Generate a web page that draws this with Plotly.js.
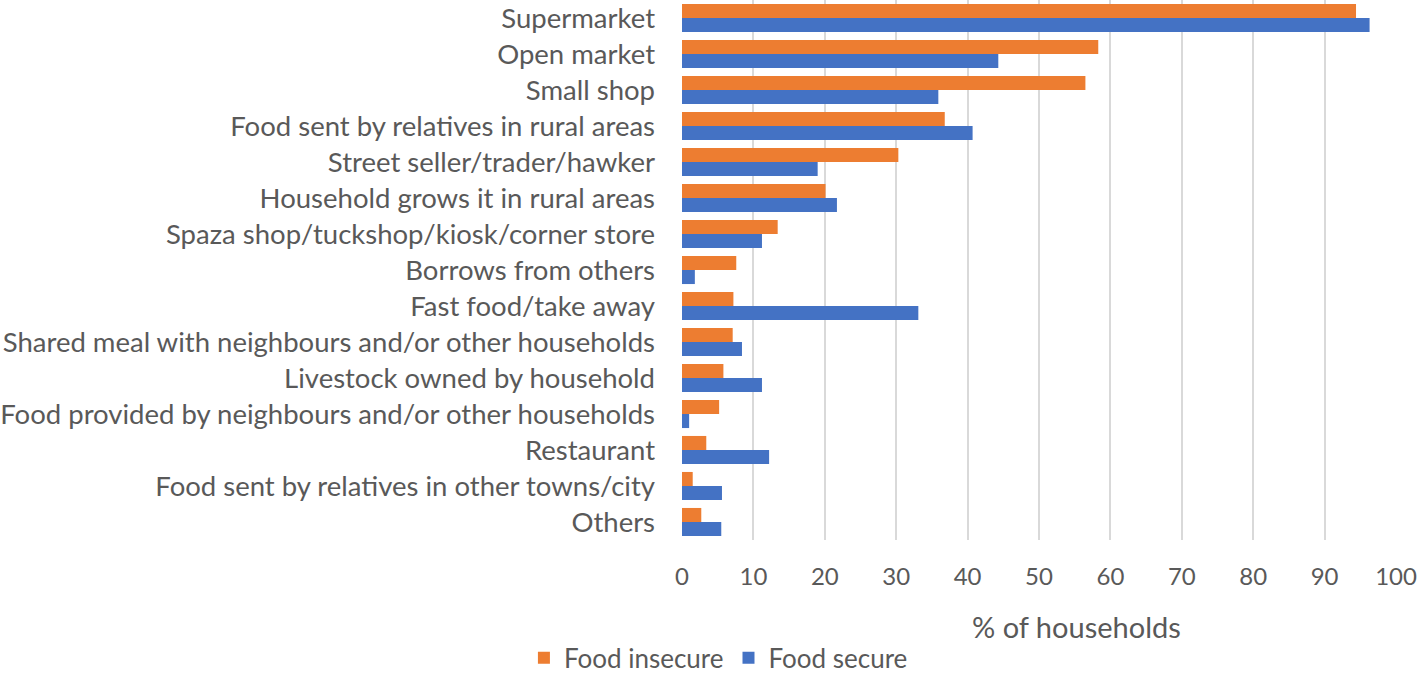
<!DOCTYPE html>
<html>
<head>
<meta charset="utf-8">
<script src="https://cdn.plot.ly/plotly-3.0.1.min.js"></script>
<style>
  html, body { margin: 0; padding: 0; background: #fff; }
  #chart { width: 1417px; height: 674px; }
</style>
</head>
<body>
<div id="chart"></div>
<script>
// Food sources, top to bottom as in the figure
const categories = [
  'Supermarket',
  'Open market',
  'Small shop',
  'Food sent by relatives in rural areas',
  'Street seller/trader/hawker',
  'Household grows it in rural areas',
  'Spaza shop/tuckshop/kiosk/corner store',
  'Borrows from others',
  'Fast food/take away',
  'Shared meal with neighbours and/or other households',
  'Livestock owned by household',
  'Food provided by neighbours and/or other households',
  'Restaurant',
  'Food sent by relatives in other towns/city',
  'Others'
];

const foodInsecure = [94.4, 58.3, 56.5, 36.8, 30.3, 20.1, 13.4, 7.6, 7.2, 7.1, 5.8, 5.2, 3.4, 1.5, 2.7];
const foodSecure   = [96.3, 44.3, 35.9, 40.7, 19.0, 21.7, 11.2, 1.8, 33.1, 8.4, 11.2, 1.0, 12.2, 5.6, 5.5];

const xTicks = [0, 10, 20, 30, 40, 50, 60, 70, 80, 90, 100];

const font = 'Lato, "Open Sans", sans-serif';
const grey = '#595959';

const traces = [
  {
    type: 'bar', orientation: 'h', name: 'Food insecure',
    y: categories, x: foodInsecure,
    marker: { color: '#ed7d31' }
  },
  {
    type: 'bar', orientation: 'h', name: 'Food secure',
    y: categories, x: foodSecure,
    marker: { color: '#4472c4' }
  }
];

const layout = {
  width: 1417,
  height: 674,
  paper_bgcolor: '#fff',
  plot_bgcolor: '#fff',
  font: { family: font, color: grey, size: 27 },
  margin: { l: 682, r: 21, t: 0, b: 134 },
  barmode: 'group',
  bargap: 0.22,
  bargroupgap: 0,
  showlegend: true,
  legend: {
    orientation: 'h',
    xref: 'container', yref: 'container',
    x: 0.507, xanchor: 'center',
    y: 0.024, yanchor: 'middle',
    font: { size: 26, color: grey },
    itemwidth: 30,
    traceorder: 'normal'
  },
  xaxis: {
    range: [0, 100],
    tickvals: xTicks,
    ticktext: xTicks.map(String),
    showgrid: true,
    gridcolor: '#d9d9d9',
    gridwidth: 2,
    zeroline: false,
    showline: false,
    ticks: '',
    ticklabelstandoff: 20,
    ticklabeloverflow: 'allow',
    tickfont: { size: 24, color: grey },
    fixedrange: true
  },
  yaxis: {
    type: 'category',
    autorange: 'reversed',
    showgrid: false,
    zeroline: false,
    showline: false,
    ticks: '',
    ticklabelstandoff: 26,
    tickfont: { size: 27.5, color: grey },
    automargin: false,
    fixedrange: true
  },
  annotations: [
    {
      text: '% of households',
      xref: 'paper', yref: 'paper',
      x: (1076 - 682) / 714, y: -(626 - 540) / 540,
      xanchor: 'center', yanchor: 'middle',
      showarrow: false,
      font: { size: 29, color: grey }
    }
  ]
};

Plotly.newPlot('chart', traces, layout, { displayModeBar: false, staticPlot: true });
</script>
</body>
</html>
